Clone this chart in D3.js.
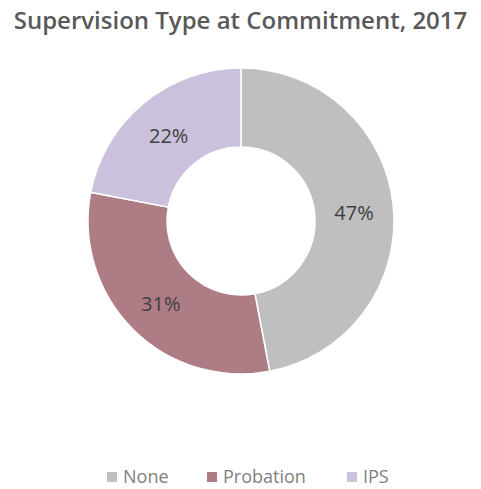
<!DOCTYPE html>
<html>
<head>
<meta charset="utf-8">
<script src="https://cdn.jsdelivr.net/npm/d3@7"></script>
<style>
  body { margin: 0; background: #fff; }
</style>
</head>
<body>
<div class="chart"></div>
<script>
var categories = ["None", "Probation", "IPS"]
var values = [47, 31, 22]
var colors = ["#bfbfbf", "#ae7c84", "#cbc1dc"]

var width = 481, height = 489
var cx = 241, cy = 221
var outerR = 153, innerR = 74

var svg = d3.select(".chart").append("svg")
    .attr("width", width)
    .attr("height", height)
    .style("font-family", "'Open Sans', sans-serif")

svg.append("text")
    .attr("x", width / 2)
    .attr("y", 29)
    .attr("text-anchor", "middle")
    .attr("fill", "#595959")
    .style("font-size", "24px")
    .style("font-weight", "600")
    .text("Supervision Type at Commitment, 2017")

var data = categories.map(function(c, i){ return {name: c, value: values[i], color: colors[i]} })

var pie = d3.pie().sort(null).value(function(d){ return d.value })
var arc = d3.arc().innerRadius(innerR).outerRadius(outerR)

var g = svg.append("g").attr("transform", "translate(" + cx + "," + cy + ")")

g.selectAll("path")
  .data(pie(data)).enter().append("path")
    .attr("d", arc)
    .attr("fill", function(d){ return d.data.color })
    .attr("stroke", "#fff")
    .attr("stroke-width", 1.5)

var total = d3.sum(values)
g.selectAll(".lbl")
  .data(pie(data)).enter().append("text")
    .attr("class", "lbl")
    .attr("transform", function(d){ var c = arc.centroid(d); return "translate(" + c[0] + "," + (c[1] + 4) + ")" })
    .attr("text-anchor", "middle")
    .attr("dominant-baseline", "middle")
    .attr("fill", "#404040")
    .style("font-size", "20px")
    .text(function(d){ return Math.round(d.data.value / total * 100) + "%" })

// legend
var legX = [107, 207, 347]
var leg = svg.selectAll(".leg")
  .data(data).enter().append("g")
    .attr("class", "leg")
    .attr("transform", function(d, i){ return "translate(" + legX[i] + ",472)" })

leg.append("rect")
    .attr("width", 10)
    .attr("height", 10)
    .attr("fill", function(d){ return d.color })

leg.append("text")
    .attr("x", 16)
    .attr("y", 11)
    .attr("fill", "#7f7f7f")
    .style("font-size", "18px")
    .text(function(d){ return d.name })
</script>
</body>
</html>
